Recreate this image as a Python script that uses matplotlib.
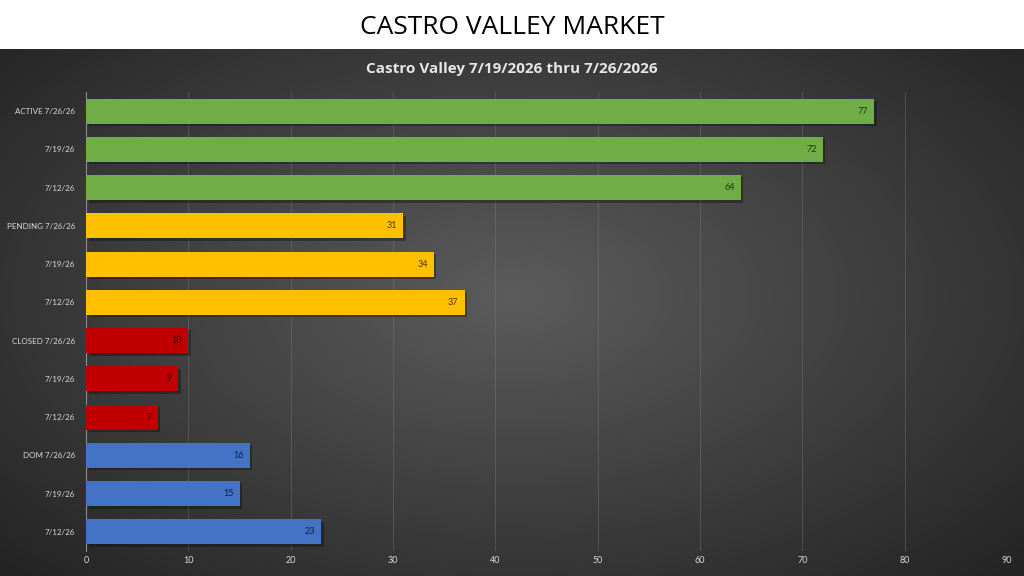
import numpy as np
import matplotlib
matplotlib.use("Agg")
import matplotlib.pyplot as plt

categories = ["ACTIVE 7/26/26", "7/19/26", "7/12/26",
              "PENDING 7/26/26", "7/19/26", "7/12/26",
              "CLOSED 7/26/26", "7/19/26", "7/12/26",
              "DOM 7/26/26", "7/19/26", "7/12/26"]
values = [77, 72, 64, 31, 34, 37, 10, 9, 7, 16, 15, 23]
group_colors = ["#70AD47"] * 3 + ["#FFC000"] * 3 + ["#C00000"] * 3 + ["#4472C4"] * 3
label_colors = ["#1e3a0f"] * 3 + ["#4a3600"] * 3 + ["#3a0000"] * 3 + ["#0f1f4a"] * 3
xticks = [0, 10, 20, 30, 40, 50, 60, 70, 80, 90]

W, H = 1024, 576
fig = plt.figure(figsize=(W / 100, H / 100), dpi=100)
fig.patch.set_facecolor("white")

# background radial gradient
bg = fig.add_axes([0, 0, 1, (H - 49) / H])
yy, xx = np.mgrid[0:300, 0:600]
cx, cy = 300, 140
r = np.sqrt(((xx - cx) / 600.0) ** 2 + ((yy - cy) / 330.0) ** 2)
v = np.clip(0.36 - 0.32 * r, 0.14, 0.36)
img = np.dstack([v, v, v])
bg.imshow(img, aspect="auto", extent=[0, 1, 0, 1], interpolation="bilinear")
bg.set_axis_off()

fig.text(0.5, 1 - 27 / H, "CASTRO VALLEY MARKET", ha="center", va="center",
         fontsize=19, color="black", family="Open Sans")

ax = fig.add_axes([86 / W, (H - 551) / H, (1007 - 86) / W, (551 - 92) / H])
ax.patch.set_alpha(0)
y = np.arange(len(categories))
# shadow
ax.barh(y + 0.06, values, height=0.66, left=0.25, color="black", alpha=0.3, zorder=2)
bars = ax.barh(y, values, height=0.66, color=group_colors, zorder=3,
               edgecolor="none")
for yi, val, lc in zip(y, values, label_colors):
    ax.text(val - 0.6, yi, str(val), ha="right", va="center", fontsize=6.5,
            color=lc, zorder=4, family="Lato")
ax.set_ylim(len(categories) - 0.5, -0.5)
ax.set_xlim(0, 90)
ax.set_xticks(xticks)
ax.set_yticks(y)
ax.set_yticklabels(categories)
ax.tick_params(axis="both", length=0, colors="#d9d9d9", labelsize=6.5)
ax.tick_params(axis="y", pad=8, labelsize=5.8)
for lbl in ax.get_xticklabels() + ax.get_yticklabels():
    lbl.set_family("Lato")
ax.grid(axis="x", color="#7f7f7f", linewidth=0.6, alpha=0.45, zorder=0)
ax.set_axisbelow(True)
for s in ["top", "right", "bottom"]:
    ax.spines[s].set_visible(False)
ax.spines["left"].set_color("#8c8c8c")
ax.spines["left"].set_linewidth(0.8)

fig.text(0.5, 1 - 69 / H, "Castro Valley 7/19/2026 thru 7/26/2026", ha="center",
         va="center", fontsize=11, fontweight="bold", color="#e6e6e6",
         family="Open Sans")

fig.savefig("out.png", dpi=100, facecolor=fig.get_facecolor())
